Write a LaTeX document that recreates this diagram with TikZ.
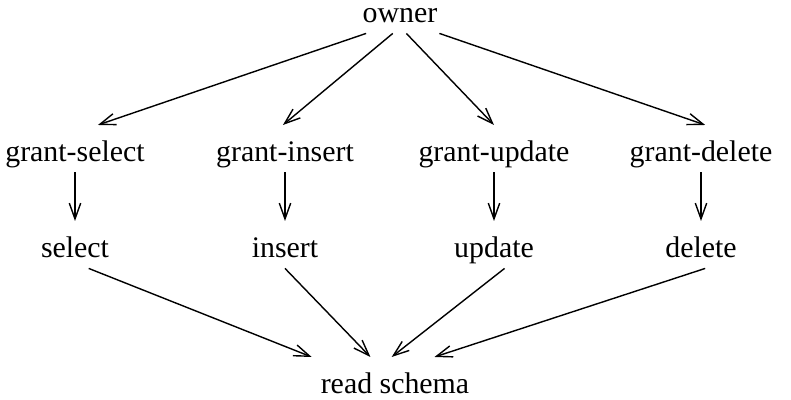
\documentclass[tikz,border=0pt]{standalone}
\usepackage{fontspec}
\setmainfont{Liberation Serif}
\usetikzlibrary{arrows.meta}

\tikzset{
  priv/.style={anchor=base, inner sep=1pt, text height=19.3pt, text depth=5.3pt,
    font=\fontsize{17}{20}\selectfont},
  grants/.style={-{Straight Barb[length=9pt,width=6.5pt]}, line width=0.8pt}
}

\begin{document}
\begin{tikzpicture}[x=0.02cm, y=-0.02cm]
        \useasboundingbox (0,0) rectangle (791,399);

        % Top node
        \node[priv] (owner) at (400,22) {owner};

        % Grant privileges
        \node[priv] (gsel) at (75,161) {grant-select};
        \node[priv] (gins) at (285,161) {grant-insert};
        \node[priv] (gupd) at (494,161) {grant-update};
        \node[priv] (gdel) at (701,161) {grant-delete};

        % Plain privileges
        \node[priv] (sel) at (75,257) {select};
        \node[priv] (ins) at (285,257) {insert};
        \node[priv] (upd) at (494,257) {update};
        \node[priv] (del) at (701,257) {delete};

        % Bottom node
        \node[priv, inner xsep=5pt] (rs) at (395,393) {read schema};

        % Owner hands out the grant privileges
        \draw[grants] (owner.215) -- (gsel.46);
        \draw[grants] (owner.253) -- (gins.95);
        \draw[grants] (owner.285) -- (gupd.north);
        \draw[grants] (owner.south east) -- (gdel.80);

        % Each grant implies its privilege
        \draw[grants] (gsel) -- (sel);
        \draw[grants] (gins) -- (ins);
        \draw[grants] (gupd) -- (upd);
        \draw[grants] (gdel) -- (del);

        % Every privilege implies read schema
        \draw[grants] (sel.300) -- (rs.north west);
        \draw[grants] (ins.south) -- (rs.136);
        \draw[grants] (upd.294) -- (rs.98);
        \draw[grants] (del.280) -- (rs.31);
    \end{tikzpicture}
\end{document}
